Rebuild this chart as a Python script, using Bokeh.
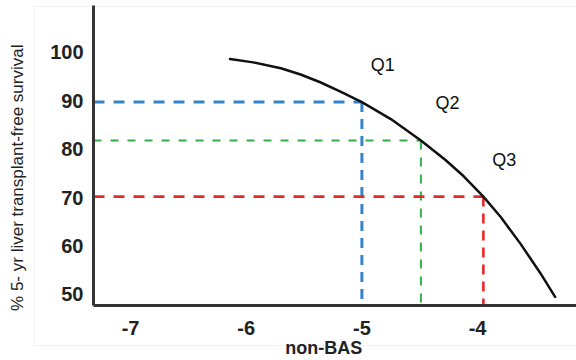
import math
from bokeh.plotting import figure
from bokeh.models import Range1d, Label, FixedTicker, BoxAnnotation
from bokeh.core.properties import value
from bokeh.embed import file_html
from bokeh.resources import INLINE

# survival curve (non-BAS vs % 5-yr transplant-free survival)
curve_x = [-6.14, -5.94, -5.70, -5.53, -5.36, -5.19, -5.00, -4.75, -4.49, -4.28, -4.12, -3.95, -3.80, -3.63, -3.46, -3.33]
curve_y = [98.6, 97.9, 96.7, 95.4, 93.8, 91.9, 89.7, 86.2, 81.8, 77.8, 74.4, 70.2, 66.0, 60.5, 54.5, 49.5]

# quartile reference points
q_names = ["Q1", "Q2", "Q3"]
q_x = [-5.00, -4.49, -3.95]
q_y = [89.7, 81.8, 70.2]
q_colors = ["#3584c8", "#36ad4b", "#e6282b"]
q_widths = [3, 2, 2.6]
q_hdash = ["11 9", "8 9", "11 9"]
q_vdash = ["10 7", "9 8", "10 7"]

# label positions for Q1..Q3
q_label_x = [-4.82, -4.26, -3.77]
q_label_y = [97.3, 89.6, 77.7]

x_ticks = [-7, -6, -5, -4]
y_ticks = [50, 60, 70, 80, 90, 100]

# whole canvas is the plotting frame; axes sit at fixed data locations inside it
x_start, x_end = -8.124, -3.145
y_start, y_end = 36.38, 110.67
yaxis_at = -7.32   # x location of the vertical axis
xaxis_at = 47.73   # y location of the horizontal axis
# light grey panel border (data units)
box_left, box_right, box_bottom, box_top = -7.83, -3.0, 39.48, 109.43

p = figure(width=576, height=360, output_backend="svg", toolbar_location=None,
           x_range=Range1d(x_start, x_end), y_range=Range1d(y_start, y_end),
           min_border_left=0, min_border_right=0, min_border_top=0, min_border_bottom=0)
p.grid.visible = False
p.outline_line_color = None

p.add_layout(BoxAnnotation(left=box_left, right=box_right, bottom=box_bottom, top=box_top,
                           fill_color=None, line_color="#cccccc", line_width=1, level="underlay"))

for ax, ticks, loc, bnds in ((p.xaxis[0], x_ticks, xaxis_at, (yaxis_at, x_end)),
                             (p.yaxis[0], y_ticks, yaxis_at, (xaxis_at, box_top + 0.2))):
    ax.ticker = FixedTicker(ticks=ticks)
    ax.major_label_overrides = {t: str(t) for t in ticks}
    ax.fixed_location = loc
    ax.bounds = bnds
    ax.axis_line_width = 3
    ax.axis_line_color = "#333333"
    ax.major_tick_in = 0
    ax.major_tick_out = 0
    ax.minor_tick_in = 0
    ax.minor_tick_out = 0
    ax.major_label_text_font = "Liberation Sans"
    ax.major_label_text_font_style = "bold"
    ax.major_label_text_font_size = "20px"
    ax.major_label_text_color = "#222222"
p.xaxis.major_label_standoff = 16
p.yaxis.major_label_standoff = 10

# dashed guide lines from the axes to the curve
for qx, qy, c, w, hd, vd in zip(q_x, q_y, q_colors, q_widths, q_hdash, q_vdash):
    p.segment(x0=[yaxis_at], y0=[qy], x1=[qx], y1=[qy], line_color=c, line_width=w, line_dash=hd)
    p.segment(x0=[qx], y0=[qy], x1=[qx], y1=[xaxis_at], line_color=c, line_width=w, line_dash=vd)

p.line(curve_x, curve_y, line_color="#111111", line_width=2.5, line_join="round", line_cap="round")

p.text(x=q_label_x, y=q_label_y, text=q_names, text_font=value("Liberation Sans"),
       text_font_size="18px", text_align="center", text_baseline="middle", text_color="#111111")

ylabel = Label(x=-7.977, y=74.1, text="% 5- yr liver transplant-free survival", angle=math.pi / 2,
               text_align="center", text_baseline="middle",
               text_font="Liberation Sans", text_font_size="17px", text_color="#222222")
p.add_layout(ylabel)

xlabel = Label(x=-5.33, y=38.86, text="non-BAS", text_align="center", text_baseline="middle",
               text_font="Liberation Sans", text_font_size="18px", text_font_style="bold",
               text_color="#222222")
p.add_layout(xlabel)

open("out.html", "w").write(file_html(p, INLINE))
